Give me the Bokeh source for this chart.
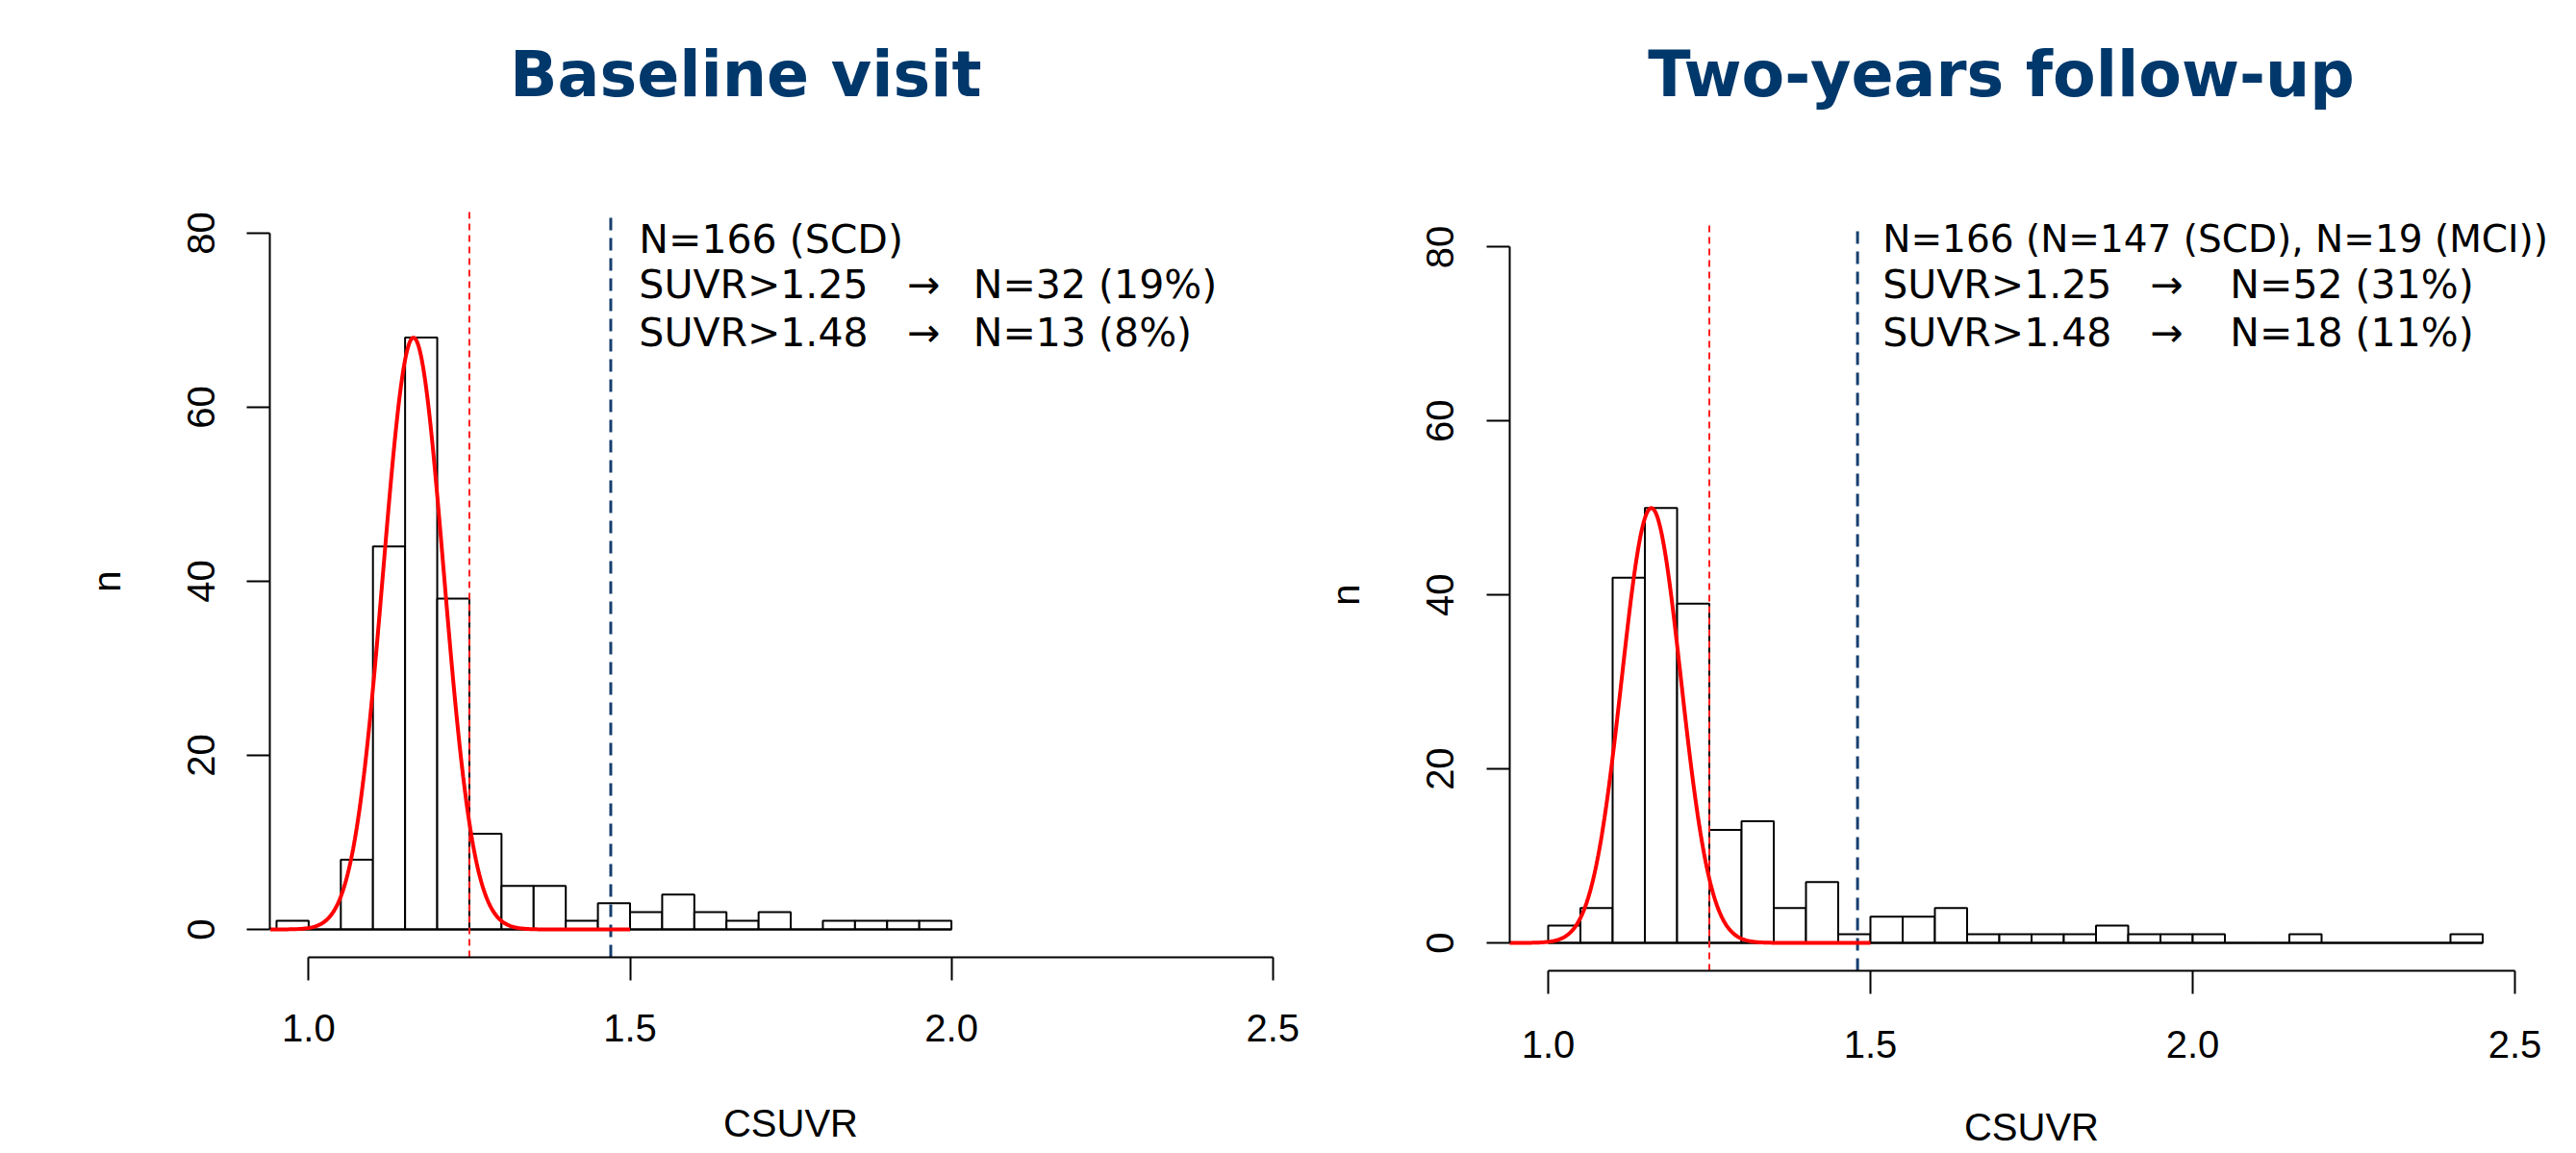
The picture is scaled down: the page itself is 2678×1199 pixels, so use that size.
import numpy as np
from bokeh.plotting import figure
from bokeh.layouts import row
from bokeh.models import FixedTicker, PrintfTickFormatter
from bokeh.core.properties import value
from bokeh.embed import file_html
from bokeh.resources import INLINE

# ---------------- data ----------------
bin_width = 0.05

baseline_bin_left = [0.95, 1.00, 1.05, 1.10, 1.15, 1.20, 1.25, 1.30, 1.35, 1.40, 1.45,
                     1.50, 1.55, 1.60, 1.65, 1.70, 1.75, 1.80, 1.85, 1.90, 1.95]
baseline_counts = [1, 0, 8, 44, 68, 38, 11, 5, 5, 1, 3,
                   2, 4, 2, 1, 2, 0, 1, 1, 1, 1]

followup_bin_left = [1.00, 1.05, 1.10, 1.15, 1.20, 1.25, 1.30, 1.35, 1.40, 1.45,
                     1.50, 1.55, 1.60, 1.65, 1.70, 1.75, 1.80, 1.85, 1.90, 1.95,
                     2.00, 2.05, 2.10, 2.15, 2.20, 2.25, 2.30, 2.35, 2.40]
followup_counts = [2, 4, 42, 50, 39, 13, 14, 4, 7, 1,
                   3, 3, 4, 1, 1, 1, 1, 2, 1, 1,
                   1, 0, 0, 1, 0, 0, 0, 0, 1]

# fitted normal curves (mean, sd, peak height in counts)
baseline_fit = (1.163, 0.047, 68)
followup_fit = (1.160, 0.046, 50)
fit_x_range = (0.94, 1.50)

# cut-off lines as drawn
baseline_cuts = (1.25, 1.47)
followup_cuts = (1.25, 1.48)

titles = ["Baseline visit", "Two-years follow-up"]
baseline_lines = ["N=166 (SCD)", "SUVR>1.25", "SUVR>1.48"]
baseline_results = ["N=32 (19%)", "N=13 (8%)"]
followup_lines = ["N=166 (N=147 (SCD), N=19 (MCI))", "SUVR>1.25", "SUVR>1.48"]
followup_results = ["N=52 (31%)", "N=18 (11%)"]
arrow = "\u2192"

x_ticks = [1.0, 1.5, 2.0, 2.5]
y_ticks = [0, 20, 40, 60, 80]
x_label = "CSUVR"
y_label = "n"
plot_x_min = 0.94     # R plot region edges (axis positions)
plot_y_min = -3.2

# ---------------- styling ----------------
TITLE_COLOR = "#00386b"
BLUE_DASH = "#163e6e"
AXIS_FONT = "Liberation Sans"
TEXT_FONT = "DejaVu Sans"


def panel(bin_left, counts, fit, cuts, title, lines, results, lay):
    W, H = lay["width"], lay["height"]
    ox, oy, sx, sy = lay["ox"], lay["oy"], lay["pxx"], lay["pxy"]
    p = figure(width=W, height=H,
               x_range=(1.0 - ox / sx, 1.0 + (W - ox) / sx),
               y_range=(-(H - oy) / sy, oy / sy),
               output_backend="svg", toolbar_location=None,
               min_border_left=0, min_border_right=0,
               min_border_top=0, min_border_bottom=0)
    p.outline_line_color = None
    p.grid.visible = False
    p.background_fill_color = "white"
    p.border_fill_color = "white"

    for ax in (p.xaxis[0], p.yaxis[0]):
        ax.axis_line_width = 2
        ax.axis_line_color = "black"
        ax.major_tick_line_width = 2
        ax.major_tick_line_color = "black"
        ax.major_tick_out = 24
        ax.major_tick_in = 0
        ax.minor_tick_line_color = None
        ax.major_label_text_font = AXIS_FONT
        ax.major_label_text_font_size = "40px"
        ax.major_label_text_color = "black"
        ax.axis_label_text_font = AXIS_FONT
        ax.axis_label_text_font_size = "40px"
        ax.axis_label_text_font_style = "normal"
        ax.axis_label_text_color = "black"
    xa, ya = p.xaxis[0], p.yaxis[0]
    xa.fixed_location = plot_y_min
    xa.bounds = (x_ticks[0], x_ticks[-1])
    xa.ticker = FixedTicker(ticks=x_ticks)
    xa.formatter = PrintfTickFormatter(format="%.1f")
    xa.axis_label = x_label
    xa.major_label_standoff = lay["xstand"]
    xa.axis_label_standoff = lay["xlabstand"]
    ya.fixed_location = plot_x_min
    ya.bounds = (y_ticks[0], y_ticks[-1])
    ya.ticker = FixedTicker(ticks=y_ticks)
    ya.major_label_orientation = "vertical"
    ya.axis_label = y_label
    ya.major_label_standoff = lay["ystand"]
    ya.axis_label_standoff = lay["ylabstand"]

    # histogram
    left = np.array(bin_left)
    right = left + bin_width
    p.quad(left=left, right=right, bottom=0, top=counts,
           fill_color="white", line_color="black", line_width=2)
    p.segment(x0=[left[0]], y0=[0], x1=[right[-1]], y1=[0],
              line_color="black", line_width=2)

    # cut-off lines
    p.segment(x0=[cuts[0]], y0=[plot_y_min], x1=[cuts[0]], y1=[82.5],
              line_color="#ff2020", line_width=2, line_dash="7 5")
    p.segment(x0=[cuts[1]], y0=[plot_y_min], x1=[cuts[1]], y1=[82.0],
              line_color=BLUE_DASH, line_width=3, line_dash="13 8")

    # fitted normal curve
    mu, sd, peak = fit
    xs = np.linspace(fit_x_range[0], fit_x_range[1], 400)
    ys = peak * np.exp(-0.5 * ((xs - mu) / sd) ** 2)
    p.line(xs, ys, line_color="#ff0000", line_width=4)

    # annotation text
    p.text(x=[lay["tx"]], y=lay["ty"][:1], text=lines[:1],
           text_font=value(TEXT_FONT), text_font_size=lay["first_size"],
           text_align="left", text_baseline="middle", text_color="black")
    p.text(x=[lay["tx"]] * 2, y=lay["ty"][1:], text=lines[1:],
           text_font=value(TEXT_FONT), text_font_size="41px",
           text_align="left", text_baseline="middle", text_color="black")
    p.text(x=[lay["ax"]] * 2, y=lay["ty"][1:], text=[arrow, arrow],
           text_font=value(TEXT_FONT), text_font_size="41px",
           text_align="center", text_baseline="middle", text_color="black")
    p.text(x=[lay["rx"]] * 2, y=lay["ty"][1:], text=results,
           text_font=value(TEXT_FONT), text_font_size="41px",
           text_align="left", text_baseline="middle", text_color="black")

    # panel title
    p.text(x=[lay["titx"]], y=[lay["tity"]], text=[title],
           text_font=value(TEXT_FONT), text_font_size="65px",
           text_font_style="bold", text_align="center",
           text_baseline="middle", text_color=TITLE_COLOR)
    return p


# pixel calibration: (ox, oy) = screen position of x=1.0 / y=0
lay_left = dict(width=1370, height=1199, ox=320.4, oy=966.0, pxx=668.2, pxy=9.05,
                xstand=36, xlabstand=59, ystand=34, ylabstand=59,
                tx=1.514, ax=1.957, rx=2.034, ty=[79.3, 74.1, 68.6],
                first_size="41px", titx=1.680, tity=98.2)
lay_right = dict(width=1308, height=1199, ox=239.0, oy=980.0, pxx=670.0, pxy=9.044,
                 xstand=39, xlabstand=46, ystand=34, ylabstand=60,
                 tx=1.519, ax=1.960, rx=2.058, ty=[80.9, 75.7, 70.2],
                 first_size="39px", titx=1.703, tity=99.8)

p1 = panel(baseline_bin_left, baseline_counts, baseline_fit, baseline_cuts,
           titles[0], baseline_lines, baseline_results, lay_left)
p2 = panel(followup_bin_left, followup_counts, followup_fit, followup_cuts,
           titles[1], followup_lines, followup_results, lay_right)

layout = row(p1, p2)
open("out.html", "w").write(file_html(layout, INLINE))
